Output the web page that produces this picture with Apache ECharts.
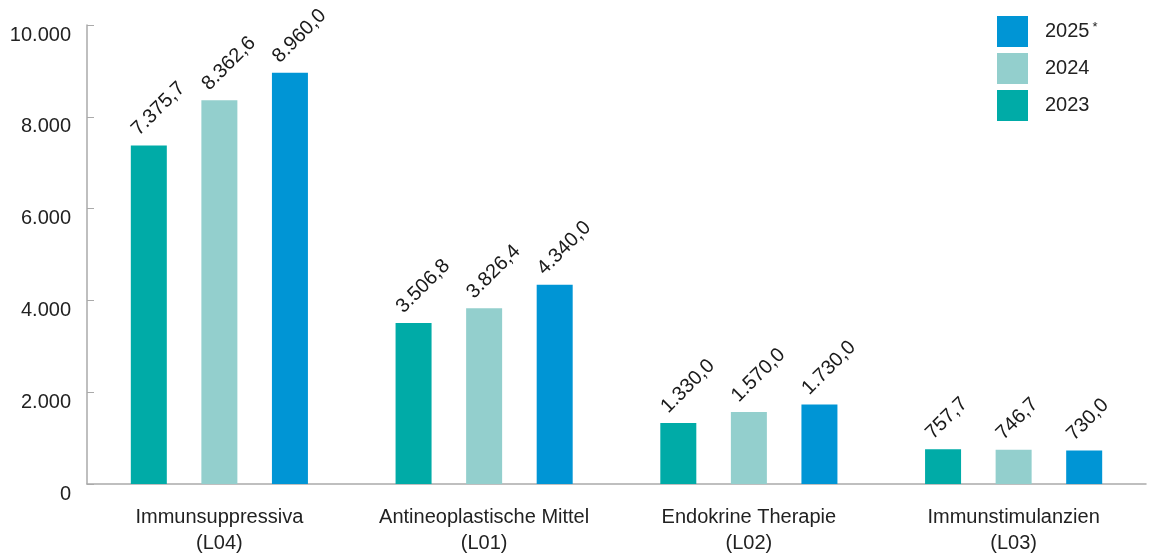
<!DOCTYPE html>
<html>
<head>
<meta charset="utf-8">
<script src="https://cdn.jsdelivr.net/npm/echarts@6/dist/echarts.min.js"></script>
<style>
html,body{margin:0;padding:0;background:#fff;}
#chart{width:1151px;height:556px;}
</style>
</head>
<body>
<div id="chart"></div>
<script>
const categories = ['Immunsuppressiva\n(L04)', 'Antineoplastische Mittel\n(L01)', 'Endokrine Therapie\n(L02)', 'Immunstimulanzien\n(L03)'];
const seriesNames = ['2023', '2024', '2025*'];
const values2023 = [7375.7, 3506.8, 1330.0, 757.7];
const values2024 = [8362.6, 3826.4, 1570.0, 746.7];
const values2025 = [8960.0, 4340.0, 1730.0, 730.0];
const yTicks = [0, 2000, 4000, 6000, 8000, 10000];
const legendOrder = ['2025*', '2024', '2023'];

const colors = ['#00aba7', '#93cfcd', '#0095d5'];
const FONT = 'Liberation Sans, Arial, sans-serif';

function deNum(v, dec) {
  const s = v.toFixed(dec);
  const parts = s.split('.');
  const intPart = parts[0].replace(/\B(?=(\d{3})+(?!\d))/g, '.');
  return dec > 0 ? intPart + ',' + parts[1] : intPart;
}

const dataSets = [values2023, values2024, values2025];
const series = seriesNames.map((name, i) => ({
  name: name,
  type: 'bar',
  data: dataSets[i],
  barWidth: 36,
  barGap: '96%',
  itemStyle: { color: colors[i] },
  label: {
    show: true,
    position: [11, -6],
    rotate: 45,
    align: 'left',
    verticalAlign: 'bottom',
    fontFamily: FONT,
    fontSize: 20,
    color: '#1a1a1a',
    formatter: p => deNum(p.value, 1)
  }
}));

const chart = echarts.init(document.getElementById('chart'));
chart.setOption({
  animation: false,
  backgroundColor: '#fff',
  textStyle: { fontFamily: FONT },
  grid: { left: 87, right: 5, top: 25, bottom: 72, containLabel: false },
  legend: {
    data: legendOrder,
    orient: 'vertical',
    left: 992,
    top: 11,
    icon: 'rect',
    itemWidth: 31,
    itemHeight: 31,
    itemGap: 6,
    textStyle: {
      fontFamily: FONT,
      fontSize: 20,
      color: '#222',
      padding: [0, 0, 0, 12],
      rich: {
        s: { fontSize: 13, verticalAlign: 'top', padding: [0, 0, 8, 3], color: '#222', fontFamily: FONT }
      }
    },
    formatter: n => n.endsWith('*') ? n.slice(0, -1) + '{s|*}' : n
  },
  xAxis: {
    type: 'category',
    data: categories,
    axisLine: { lineStyle: { color: '#aaaaaa', width: 1.5 } },
    axisTick: { show: false },
    axisLabel: {
      interval: 0,
      hideOverlap: false,
      fontFamily: FONT,
      fontSize: 20,
      color: '#222',
      margin: 20,
      lineHeight: 26
    }
  },
  yAxis: {
    type: 'value',
    min: 0,
    max: 10000,
    interval: 2000,
    splitLine: { show: false },
    axisLine: { show: true, lineStyle: { color: '#aaaaaa', width: 1.5 } },
    axisTick: { show: true, inside: true, length: 7, lineStyle: { color: '#aaaaaa' } },
    axisLabel: {
      fontFamily: FONT,
      fontSize: 20,
      color: '#222',
      margin: 16,
      verticalAlign: 'top',
      formatter: v => deNum(v, 0)
    }
  },
  series: series
});
</script>
</body>
</html>
